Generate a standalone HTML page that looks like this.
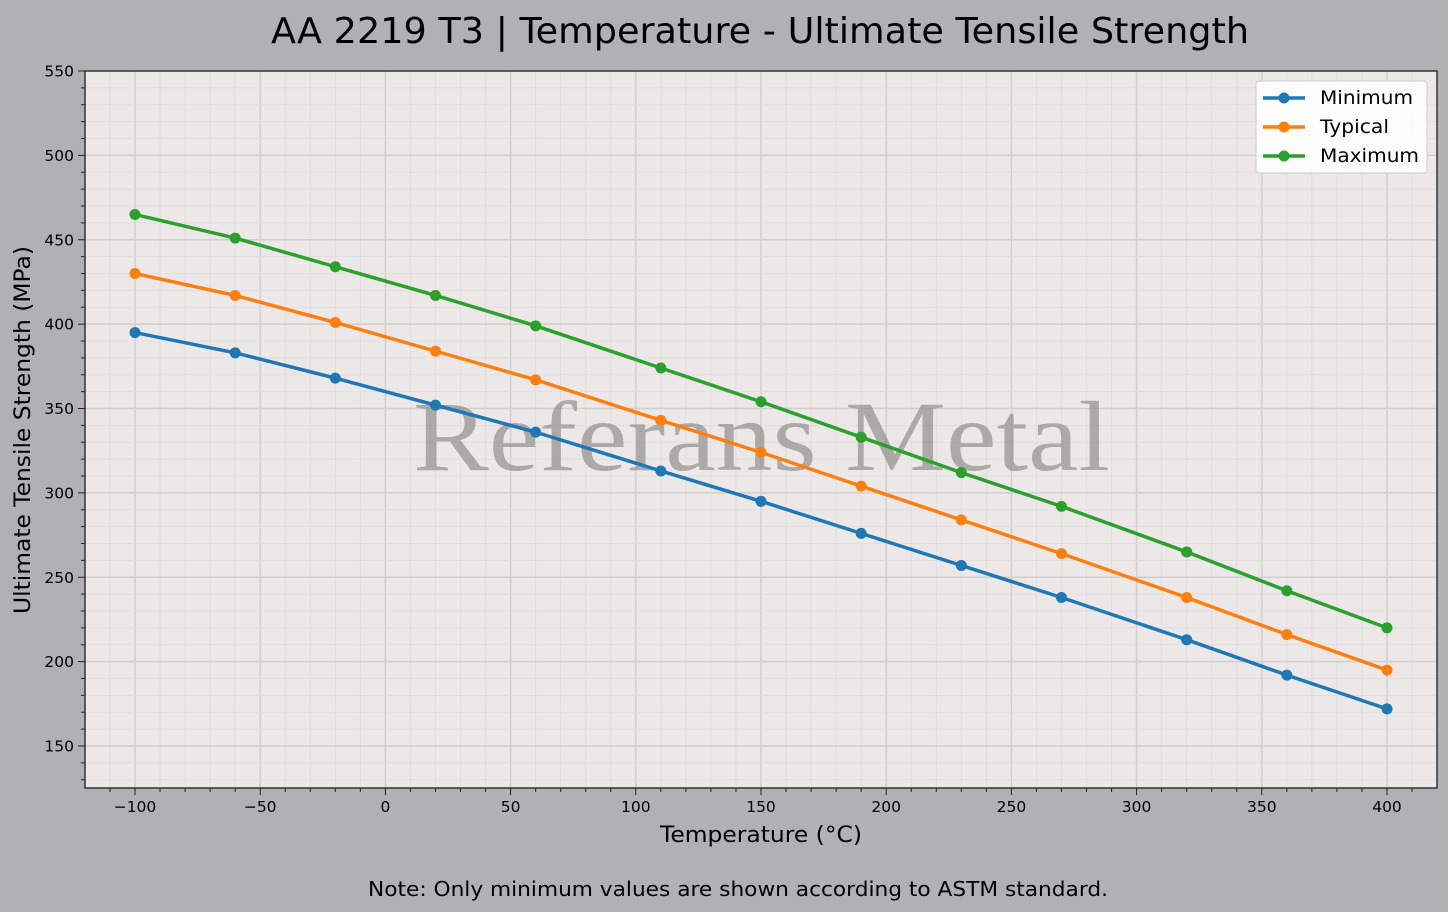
<!DOCTYPE html>
<html><head><meta charset="utf-8"><style>
body{margin:0;background:#b1b0b5;}
svg{display:block;font-family:"DejaVu Sans","Liberation Sans",sans-serif;}
</style></head><body>
<svg id="s" width="1448" height="912" xmlns="http://www.w3.org/2000/svg"></svg>
<script>
const L=85,R=1437,T=71,B=788;
const X=v=>385.4+v*2.504, Y=v=>71+(550-v)*1.6875;
let h='<rect width="1448" height="912" fill="#b1b0b5"/>';
h+=`<rect x="${L}" y="${T}" width="${R-L}" height="${B-T}" fill="#ebe8e7"/>`;
for(let v=-120;v<=420;v+=10){const x=X(v);if(x<L||x>R)continue;const maj=v%50==0;
h+=`<line x1="${x}" y1="${T}" x2="${x}" y2="${B}" stroke="${maj?'#d2cfcf':'#e0dddc'}" stroke-width="${maj?1.5:0.8}"/>`;
h+=`<line x1="${x}" y1="${B}" x2="${x}" y2="${B+(maj?7:4)}" stroke="#222" stroke-width="1"/>`;
if(maj)h+=`<text x="${x}" y="${B+24}" font-size="15.5" text-anchor="middle">${v<0?'−'+(-v):v}</text>`;}
for(let v=130;v<=550;v+=10){const y=Y(v);if(y<T-0.5||y>B)continue;const maj=v%50==0;
h+=`<line x1="${L}" y1="${y}" x2="${R}" y2="${y}" stroke="${maj?'#d2cfcf':'#e0dddc'}" stroke-width="${maj?1.5:0.8}"/>`;
h+=`<line x1="${L}" y1="${y}" x2="${L-(maj?7:4)}" y2="${y}" stroke="#222" stroke-width="1"/>`;
if(maj)h+=`<text x="${L-11}" y="${y+5.5}" font-size="15.5" text-anchor="end">${v}</text>`;}
h+=`<text x="413" y="470" font-family="Liberation Serif,serif" font-size="100" fill="#808080" fill-opacity="0.6" textLength="697" lengthAdjust="spacingAndGlyphs">Referans Metal</text>`;
const xs=[-100,-60,-20,20,60,110,150,190,230,270,320,360,400];
const S=[["Minimum","#1f77b4",[395,383,368,352,336,313,295,276,257,238,213,192,172]],
["Typical","#ff7f0e",[430,417,401,384,367,343,324,304,284,264,238,216,195]],
["Maximum","#2ca02c",[465,451,434,417,399,374,354,333,312,292,265,242,220]]];
for(const [n,c,d] of S){h+=`<polyline fill="none" stroke="${c}" stroke-width="3.5" points="${d.map((v,i)=>X(xs[i])+','+Y(v)).join(' ')}"/>`;
d.forEach((v,i)=>h+=`<circle cx="${X(xs[i])}" cy="${Y(v)}" r="5.5" fill="${c}"/>`);}
h+=`<rect x="${L}" y="${T}" width="${R-L}" height="${B-T}" fill="none" stroke="#333" stroke-width="1.5"/>`;
h+=`<rect x="1256" y="81" width="171" height="92" rx="3" fill="#fff" fill-opacity="0.9" stroke="#ccc"/>`;
const LW=[93,69,99];
S.forEach(([n,c],i)=>{const y=98+i*29;h+=`<line x1="1263" y1="${y}" x2="1305" y2="${y}" stroke="${c}" stroke-width="3.5"/><circle cx="1284" cy="${y}" r="5.5" fill="${c}"/><text x="1320" y="${y+6}" font-size="19" textLength="${LW[i]}" lengthAdjust="spacingAndGlyphs">${n}</text>`;});
h+=`<text x="271" y="43" font-size="36" textLength="978" lengthAdjust="spacingAndGlyphs">AA 2219 T3 | Temperature - Ultimate Tensile Strength</text>`;
h+=`<text x="660" y="842" font-size="22.5" textLength="202" lengthAdjust="spacingAndGlyphs">Temperature (°C)</text>`;
h+=`<text transform="translate(30,614) rotate(-90)" font-size="22.5" textLength="368" lengthAdjust="spacingAndGlyphs">Ultimate Tensile Strength (MPa)</text>`;
h+=`<text x="368" y="896" font-size="20.5" textLength="740" lengthAdjust="spacingAndGlyphs">Note: Only minimum values are shown according to ASTM standard.</text>`;
document.getElementById('s').innerHTML=h;
</script>
</body></html>
